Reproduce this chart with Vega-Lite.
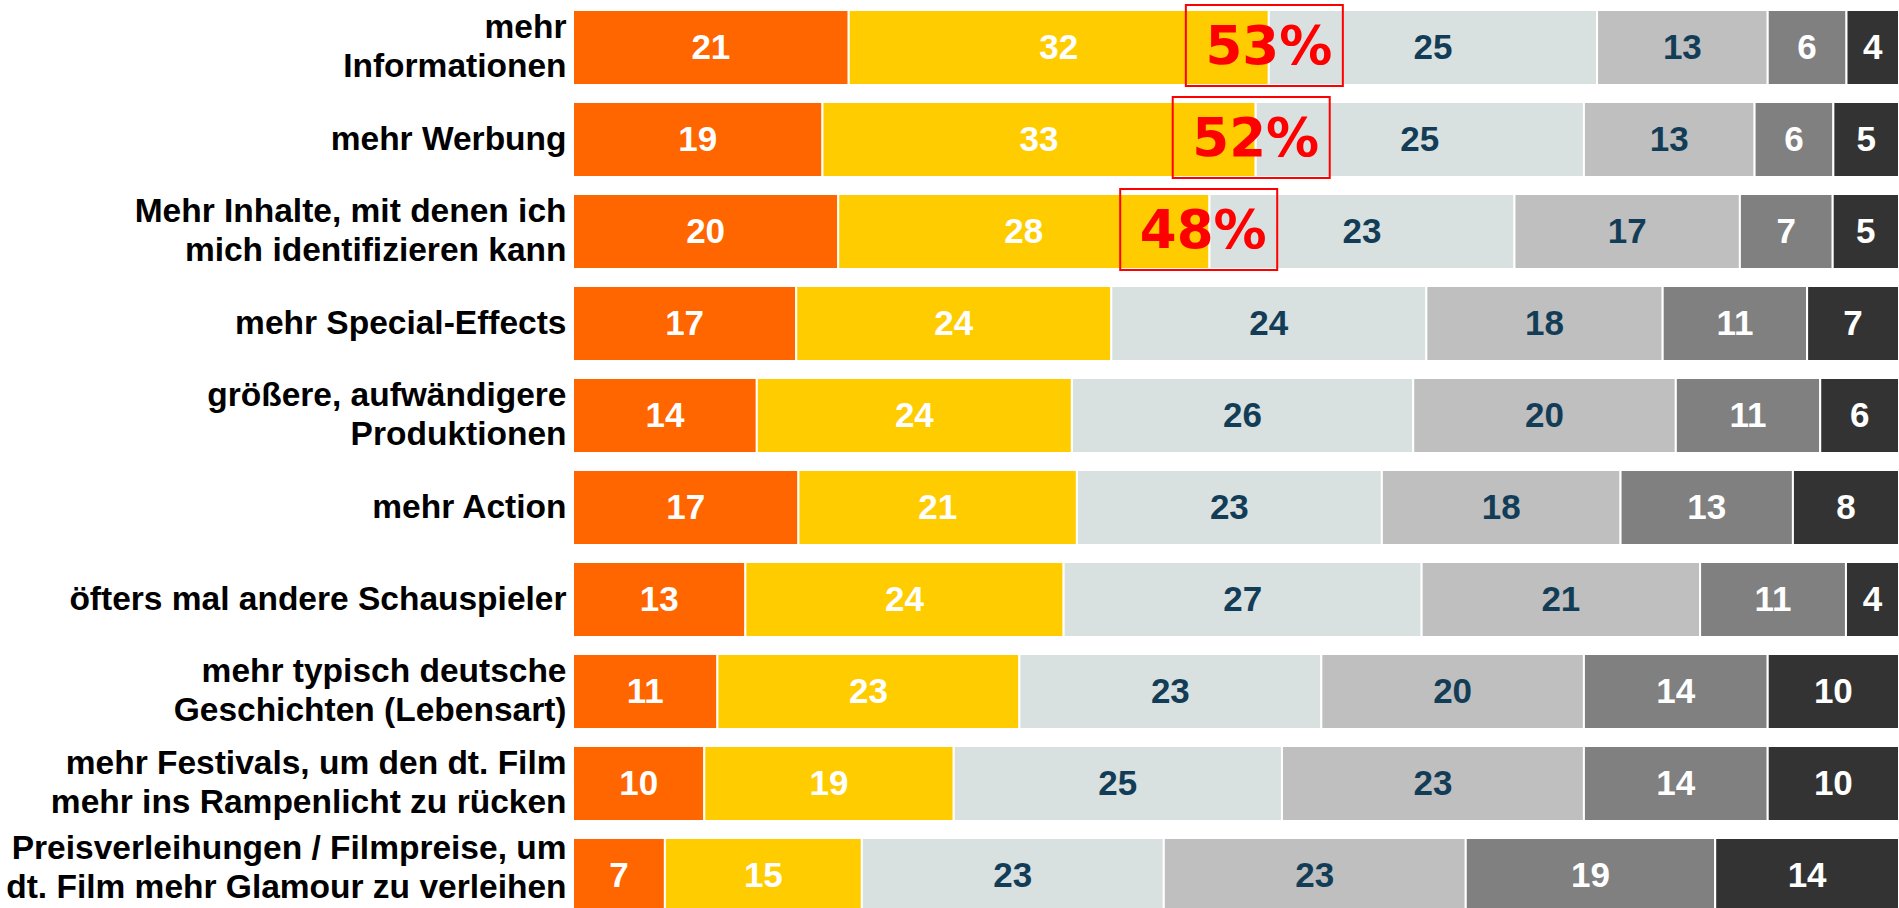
{
  "$schema": "https://vega.github.io/schema/vega-lite/v6.json",
  "width": 1326,
  "height": 906.5,
  "autosize": "none",
  "padding": {"left": 573, "top": 1.5, "right": 0, "bottom": 0},
  "background": "white",
  "config": {"view": {"stroke": null}},
  "datasets": {
    "bars": [
      {"cat": "mehr|Informationen", "seg": 1, "value": 21},
      {"cat": "mehr|Informationen", "seg": 2, "value": 32},
      {"cat": "mehr|Informationen", "seg": 3, "value": 25},
      {"cat": "mehr|Informationen", "seg": 4, "value": 13},
      {"cat": "mehr|Informationen", "seg": 5, "value": 6},
      {"cat": "mehr|Informationen", "seg": 6, "value": 4},
      {"cat": "mehr Werbung", "seg": 1, "value": 19},
      {"cat": "mehr Werbung", "seg": 2, "value": 33},
      {"cat": "mehr Werbung", "seg": 3, "value": 25},
      {"cat": "mehr Werbung", "seg": 4, "value": 13},
      {"cat": "mehr Werbung", "seg": 5, "value": 6},
      {"cat": "mehr Werbung", "seg": 6, "value": 5},
      {"cat": "Mehr Inhalte, mit denen ich|mich identifizieren kann", "seg": 1, "value": 20},
      {"cat": "Mehr Inhalte, mit denen ich|mich identifizieren kann", "seg": 2, "value": 28},
      {"cat": "Mehr Inhalte, mit denen ich|mich identifizieren kann", "seg": 3, "value": 23},
      {"cat": "Mehr Inhalte, mit denen ich|mich identifizieren kann", "seg": 4, "value": 17},
      {"cat": "Mehr Inhalte, mit denen ich|mich identifizieren kann", "seg": 5, "value": 7},
      {"cat": "Mehr Inhalte, mit denen ich|mich identifizieren kann", "seg": 6, "value": 5},
      {"cat": "mehr Special-Effects", "seg": 1, "value": 17},
      {"cat": "mehr Special-Effects", "seg": 2, "value": 24},
      {"cat": "mehr Special-Effects", "seg": 3, "value": 24},
      {"cat": "mehr Special-Effects", "seg": 4, "value": 18},
      {"cat": "mehr Special-Effects", "seg": 5, "value": 11},
      {"cat": "mehr Special-Effects", "seg": 6, "value": 7},
      {"cat": "größere, aufwändigere|Produktionen", "seg": 1, "value": 14},
      {"cat": "größere, aufwändigere|Produktionen", "seg": 2, "value": 24},
      {"cat": "größere, aufwändigere|Produktionen", "seg": 3, "value": 26},
      {"cat": "größere, aufwändigere|Produktionen", "seg": 4, "value": 20},
      {"cat": "größere, aufwändigere|Produktionen", "seg": 5, "value": 11},
      {"cat": "größere, aufwändigere|Produktionen", "seg": 6, "value": 6},
      {"cat": "mehr Action", "seg": 1, "value": 17},
      {"cat": "mehr Action", "seg": 2, "value": 21},
      {"cat": "mehr Action", "seg": 3, "value": 23},
      {"cat": "mehr Action", "seg": 4, "value": 18},
      {"cat": "mehr Action", "seg": 5, "value": 13},
      {"cat": "mehr Action", "seg": 6, "value": 8},
      {"cat": "öfters mal andere Schauspieler", "seg": 1, "value": 13},
      {"cat": "öfters mal andere Schauspieler", "seg": 2, "value": 24},
      {"cat": "öfters mal andere Schauspieler", "seg": 3, "value": 27},
      {"cat": "öfters mal andere Schauspieler", "seg": 4, "value": 21},
      {"cat": "öfters mal andere Schauspieler", "seg": 5, "value": 11},
      {"cat": "öfters mal andere Schauspieler", "seg": 6, "value": 4},
      {"cat": "mehr typisch deutsche|Geschichten (Lebensart)", "seg": 1, "value": 11},
      {"cat": "mehr typisch deutsche|Geschichten (Lebensart)", "seg": 2, "value": 23},
      {"cat": "mehr typisch deutsche|Geschichten (Lebensart)", "seg": 3, "value": 23},
      {"cat": "mehr typisch deutsche|Geschichten (Lebensart)", "seg": 4, "value": 20},
      {"cat": "mehr typisch deutsche|Geschichten (Lebensart)", "seg": 5, "value": 14},
      {"cat": "mehr typisch deutsche|Geschichten (Lebensart)", "seg": 6, "value": 10},
      {"cat": "mehr Festivals, um den dt. Film|mehr ins Rampenlicht zu rücken", "seg": 1, "value": 10},
      {"cat": "mehr Festivals, um den dt. Film|mehr ins Rampenlicht zu rücken", "seg": 2, "value": 19},
      {"cat": "mehr Festivals, um den dt. Film|mehr ins Rampenlicht zu rücken", "seg": 3, "value": 25},
      {"cat": "mehr Festivals, um den dt. Film|mehr ins Rampenlicht zu rücken", "seg": 4, "value": 23},
      {"cat": "mehr Festivals, um den dt. Film|mehr ins Rampenlicht zu rücken", "seg": 5, "value": 14},
      {"cat": "mehr Festivals, um den dt. Film|mehr ins Rampenlicht zu rücken", "seg": 6, "value": 10},
      {"cat": "Preisverleihungen / Filmpreise, um|dt. Film mehr Glamour zu verleihen", "seg": 1, "value": 7},
      {"cat": "Preisverleihungen / Filmpreise, um|dt. Film mehr Glamour zu verleihen", "seg": 2, "value": 15},
      {"cat": "Preisverleihungen / Filmpreise, um|dt. Film mehr Glamour zu verleihen", "seg": 3, "value": 23},
      {"cat": "Preisverleihungen / Filmpreise, um|dt. Film mehr Glamour zu verleihen", "seg": 4, "value": 23},
      {"cat": "Preisverleihungen / Filmpreise, um|dt. Film mehr Glamour zu verleihen", "seg": 5, "value": 19},
      {"cat": "Preisverleihungen / Filmpreise, um|dt. Film mehr Glamour zu verleihen", "seg": 6, "value": 14}
    ],
    "annot": [
      {"cat": "mehr|Informationen", "top2": 53, "label": "53%"},
      {"cat": "mehr Werbung", "top2": 52, "label": "52%"},
      {"cat": "Mehr Inhalte, mit denen ich|mich identifizieren kann", "top2": 48, "label": "48%"}
    ]
  },
  "resolve": {"scale": {"x": "independent"}},
  "layer": [
    {
      "data": {"name": "bars"},
      "transform": [
        {"stack": "value", "groupby": ["cat"], "sort": [{"field": "seg", "order": "ascending"}], "offset": "normalize", "as": ["x0", "x1"]},
        {"calculate": "(datum.x0 + datum.x1) / 2", "as": "mid"}
      ],
      "layer": [
        {
          "mark": {"type": "bar", "stroke": "white", "strokeWidth": 2},
          "encoding": {
            "y": {
              "field": "cat", "type": "nominal", "sort": null,
              "scale": {
                "domain": ["mehr|Informationen", "mehr Werbung", "Mehr Inhalte, mit denen ich|mich identifizieren kann", "mehr Special-Effects", "größere, aufwändigere|Produktionen", "mehr Action", "öfters mal andere Schauspieler", "mehr typisch deutsche|Geschichten (Lebensart)", "mehr Festivals, um den dt. Film|mehr ins Rampenlicht zu rücken", "Preisverleihungen / Filmpreise, um|dt. Film mehr Glamour zu verleihen"],
                "range": [0, 920], "paddingInner": 0.185, "paddingOuter": 0.0925
              },
              "axis": {
                "title": null, "domain": false, "ticks": false, "labelPadding": 7,
                "labelExpr": "split(datum.label, '|')",
                "labelFont": "Liberation Sans", "labelFontWeight": "bold", "labelFontSize": 33.5,
                "labelColor": "#000000", "labelLineHeight": 39, "labelLimit": 0,
                "labelAlign": "right", "labelBaseline": "middle", "labelOverlap": false,
                "labelOffset": {"expr": "indexof(datum.value, 'Preis') == 0 ? -27 : (indexof(datum.value, '|') >= 0 ? -19.5 : 0)"}
              }
            },
            "x": {"field": "x0", "type": "quantitative", "scale": {"domain": [0, 1], "nice": false, "zero": false}, "axis": null},
            "x2": {"field": "x1"},
            "color": {
              "field": "seg", "type": "nominal",
              "scale": {"domain": [1, 2, 3, 4, 5, 6], "range": ["#ff6600", "#ffcc00", "#d9e1e0", "#bfbfbf", "#808080", "#333333"]},
              "legend": null
            }
          }
        },
        {
          "mark": {"type": "text", "font": "Liberation Sans", "fontWeight": "bold", "fontSize": 35, "baseline": "middle", "align": "center"},
          "encoding": {
            "y": {"field": "cat", "type": "nominal", "sort": null},
            "x": {"field": "mid", "type": "quantitative", "axis": null},
            "text": {"field": "value", "type": "quantitative"},
            "color": {"condition": {"test": "datum.seg == 3 || datum.seg == 4", "value": "#133d57"}, "value": "#ffffff"}
          }
        }
      ]
    },
    {
      "data": {"name": "annot"},
      "layer": [
        {
          "mark": {"type": "point", "shape": "M-1.057,-0.541H0.943V0.49H-1.057Z", "size": 24649, "filled": false, "color": "#ff0000", "strokeWidth": 2, "opacity": 1},
          "encoding": {
            "y": {"field": "cat", "type": "nominal", "sort": null},
            "x": {"field": "top2", "type": "quantitative", "scale": {"domain": [0, 101], "nice": false}, "axis": null}
          }
        },
        {
          "mark": {"type": "text", "font": "DejaVu Sans", "fontWeight": "bold", "fontSize": 53, "color": "#ff0000", "baseline": "middle", "align": "center"},
          "encoding": {
            "y": {"field": "cat", "type": "nominal", "sort": null},
            "x": {"field": "top2", "type": "quantitative", "axis": null},
            "text": {"field": "label", "type": "nominal"}
          }
        }
      ]
    }
  ]
}
